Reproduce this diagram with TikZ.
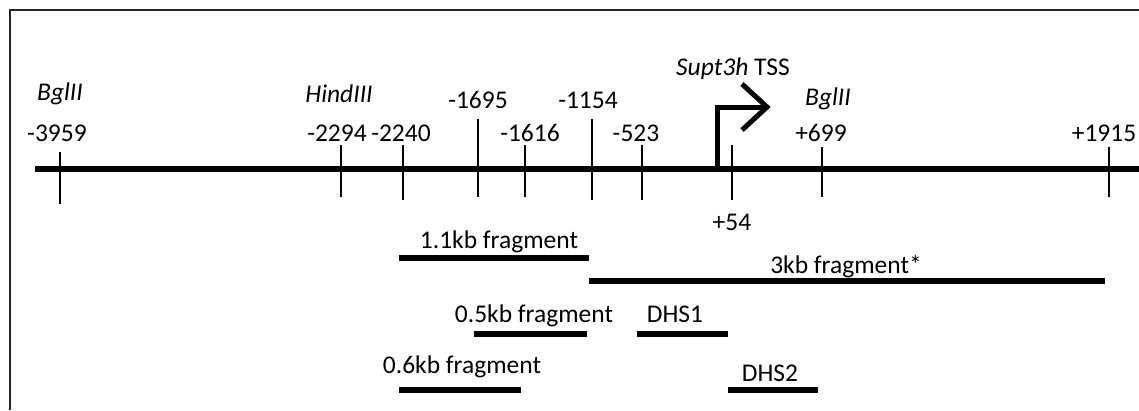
\documentclass[tikz,border=0pt]{standalone}
\usepackage{fontspec}
\setmainfont{Carlito}
\begin{document}
\begin{tikzpicture}[x=1pt,y=-1pt,
  lbl/.style={anchor=base,inner sep=0pt,font=\fontsize{25.5}{30}\selectfont},
  ilbl/.style={lbl,font=\fontsize{25.5}{30}\selectfont\itshape},
  tick/.style={line width=2.6pt},
  bar/.style={line width=5.5pt},
  dna/.style={line width=6pt},
  tss/.style={line width=5pt,line join=miter},
  frame/.style={line width=2pt,draw=black!85}]
\useasboundingbox (0,0) rectangle (1139,410);
% frame
\draw[frame] (9.5,410) -- (9.5,10) -- (1139,10);
% main DNA line
\coordinate (dnaL) at (35,169);
\coordinate (dnaR) at (1139,169);
\draw[dna] (dnaL) -- (dnaR);
% ticks
\foreach \n/\x/\a/\b in {t3959/60/152/204, t2294/341/145/197, t2240/403/145/200,
  t1695/478/119/197, t1616/525/145/197, t1154/592/119/200, t523/642/145/200,
  t54/732/145/200, t699/822/147/197, t1915/1109/147/197}{
  \coordinate (\n a) at (\x,\a);
  \coordinate (\n b) at (\x,\b);
  \draw[tick] (\n a) -- (\n b);
}
% TSS arrow
\coordinate (tssA) at (717,171);
\coordinate (tssB) at (717,107);
\coordinate (tssC) at (767,107);
\coordinate (chevU) at (742,84);
\coordinate (chevD) at (742,130);
\draw[tss] (tssA) -- (tssB) -- (tssC);
\draw[tss] (chevU) -- (tssC) -- (chevD);
% labels
\node[ilbl] (bgl1) at (60,100) {BglII};
\node[lbl] (n3959) at (57,141) {-3959};
\node[ilbl] (hind) at (339,102) {HindIII};
\node[lbl] (n2294) at (337,141) {-2294};
\node[lbl] (n2240) at (401,141) {-2240};
\node[lbl] (n1695) at (478,108) {-1695};
\node[lbl] (n1616) at (530,141) {-1616};
\node[lbl] (n1154) at (588,108) {-1154};
\node[lbl] (n523) at (636,141) {-523};
\node[lbl] (tsslbl) at (733,75) {\itshape Supt3h\upshape\ TSS};
\node[lbl] (n54) at (732,230) {+54};
\node[ilbl] (bgl2) at (828,105) {BglII};
\node[lbl] (n699) at (821,141) {+699};
\node[lbl] (n1915) at (1104,141) {+1915};
% fragments
\coordinate (f11a) at (399,258); \coordinate (f11b) at (589,258);
\draw[bar] (f11a) -- (f11b);
\node[lbl] (l11) at (499,248) {1.1kb fragment};
\coordinate (f3a) at (589,281); \coordinate (f3b) at (1105,281);
\draw[bar] (f3a) -- (f3b);
\node[lbl] (l3) at (846,273) {3kb fragment*};
\coordinate (f05a) at (474,334); \coordinate (f05b) at (587,334);
\draw[bar] (f05a) -- (f05b);
\node[lbl] (l05) at (534,322) {0.5kb fragment};
\coordinate (d1a) at (637,334); \coordinate (d1b) at (728,334);
\draw[bar] (d1a) -- (d1b);
\node[lbl] (ld1) at (675,322) {DHS1};
\coordinate (f06a) at (399,390); \coordinate (f06b) at (521,390);
\draw[bar] (f06a) -- (f06b);
\node[lbl] (l06) at (462,373) {0.6kb fragment};
\coordinate (d2a) at (728,390); \coordinate (d2b) at (818,390);
\draw[bar] (d2a) -- (d2b);
\node[lbl] (ld2) at (770,381) {DHS2};
\end{tikzpicture}
\end{document}
